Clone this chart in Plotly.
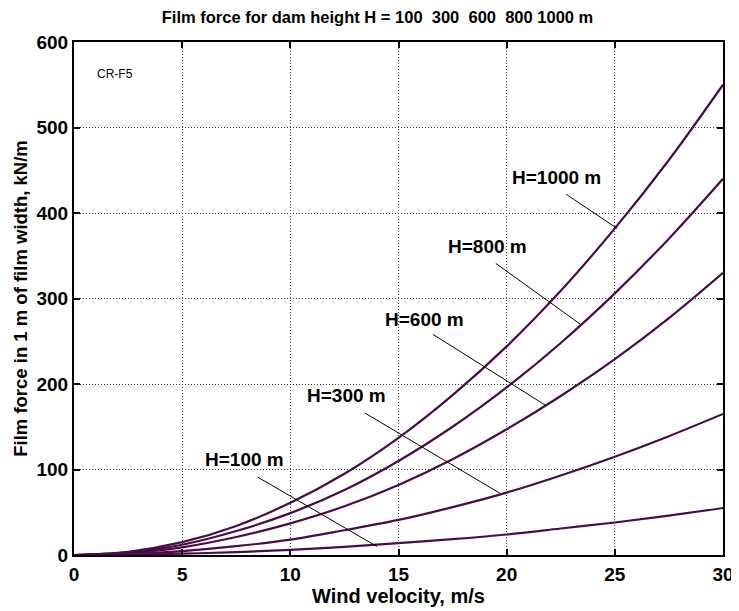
import plotly.graph_objects as go

# wind velocity, m/s
velocity = [0, 2.5, 5, 7.5, 10, 12.5, 15, 17.5, 20, 22.5, 25, 27.5, 30]

# film force, kN/m
force_h100 = [0, 0.4, 1.5, 3.4, 6, 9.5, 14, 18.5, 24, 31, 38, 46, 55]
force_h300 = [0, 1.1, 4.6, 10.3, 18, 29, 41, 56, 73, 93, 115, 139, 165]
force_h600 = [0, 2.3, 9, 21, 37, 57, 82, 112, 147, 186, 229, 277, 330]
force_h800 = [0, 3.1, 12, 28, 49, 76, 110, 150, 196, 248, 306, 370, 440]
force_h1000 = [0, 3.8, 15, 34, 61, 95, 137, 187, 244, 309, 382, 462, 550]

series = [force_h100, force_h300, force_h600, force_h800, force_h1000]

# callout labels: text, label position, line start, line end (data coords)
callouts = [
    ("H=100 m", (7.9, 112), (8.5, 91), (14.0, 10)),
    ("H=300 m", (12.6, 186), (13.45, 166), (19.7, 72)),
    ("H=600 m", (16.2, 275), (16.6, 258), (21.8, 175)),
    ("H=800 m", (19.1, 361), (19.5, 341), (23.4, 270)),
    ("H=1000 m", (22.3, 442), (22.75, 422), (25.1, 382)),
]

LINE = "#4a0c48"
FONT = "Liberation Sans, Arial, sans-serif"

fig = go.Figure()
for ys in series:
    fig.add_trace(go.Scatter(x=velocity, y=ys, mode="lines",
                             line=dict(color=LINE, width=2.2, shape="spline"),
                             showlegend=False, hoverinfo="skip"))

for text, (tx, ty), (x0, y0), (x1, y1) in callouts:
    fig.add_shape(type="line", x0=x0, y0=y0, x1=x1, y1=y1,
                  line=dict(color="black", width=1))
    fig.add_annotation(x=tx, y=ty, text="<b>%s</b>" % text, showarrow=False,
                       font=dict(size=19, color="black", family=FONT))

fig.add_annotation(x=0.032, y=0.938, xref="paper", yref="paper",
                   text="CR-F5", showarrow=False, xanchor="left", yanchor="middle",
                   font=dict(size=12, color="black", family=FONT))

axis_common = dict(
    showline=True, linecolor="black", linewidth=2, mirror="ticks",
    ticks="inside", ticklen=6, tickwidth=2, tickcolor="black",
    showgrid=True, gridcolor="#444", griddash="1px,2px", gridwidth=1,
    zeroline=False,
    tickfont=dict(size=19, color="black", family=FONT, weight="bold"),
)

# the page body has an 8px margin, so margins are shifted by that amount
fig.update_layout(
    width=739, height=611,
    margin=dict(l=63, r=24, t=34, b=64),
    paper_bgcolor="white", plot_bgcolor="white",
    font=dict(family=FONT, color="black"),
    title=dict(text="<b>Film force for dam height H = 100  300  600  800 1000 m</b>",
               x=0.5, xanchor="center", y=0.985, yanchor="middle",
               font=dict(size=16.5, color="black", family=FONT)),
    xaxis=dict(range=[0, 30], dtick=5, ticklabelstandoff=1,
               title=dict(text="<b>Wind velocity, m/s</b>", standoff=0,
                          font=dict(size=20, color="black", family=FONT)),
               **axis_common),
    yaxis=dict(range=[0, 600], dtick=100,
               title=dict(text="<b>Film force in 1 m of film width, kN/m</b>", standoff=4,
                          font=dict(size=18.5, color="black", family=FONT)),
               **axis_common),
)

fig.write_html("out.html")
